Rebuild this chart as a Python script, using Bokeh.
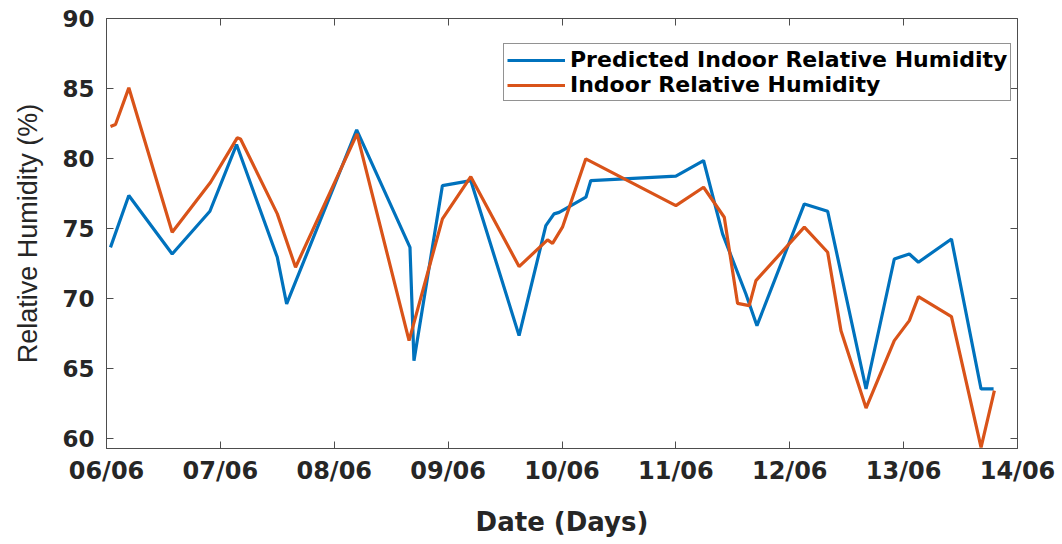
from bokeh.plotting import figure
from bokeh.models import Range1d, FixedTicker, LinearAxis
from bokeh.embed import file_html
from bokeh.resources import INLINE

# x positions are days since 06/06 00:00
tick_days = [0, 1, 2, 3, 4, 5, 6, 7, 8]
tick_labels = ["06/06", "07/06", "08/06", "09/06", "10/06", "11/06", "12/06", "13/06", "14/06"]
y_ticks = [60, 65, 70, 75, 80, 85, 90]

pred_days = [0.035, 0.196, 0.577, 0.908, 1.142, 1.50, 1.582, 2.197, 2.665, 2.70, 2.95, 3.199,
             3.623, 3.858, 3.93, 3.975, 4.21, 4.253, 5.0, 5.243, 5.41, 5.615, 5.712, 6.128,
             6.333, 6.67, 6.918, 7.05, 7.13, 7.42, 7.68, 7.79]
pred_rh = [73.66, 77.36, 73.19, 76.24, 81.0, 72.95, 69.62, 82.05, 73.66, 65.57, 78.07, 78.43,
           67.36, 75.21, 76.05, 76.16, 77.24, 78.43, 78.74, 79.86, 74.62, 70.33, 68.07, 76.76,
           76.24, 63.55, 72.83, 73.19, 72.6, 74.26, 63.55, 63.55]

obs_days = [0.035, 0.079, 0.196, 0.577, 0.914, 1.148, 1.177, 1.50, 1.66, 2.2, 2.657, 2.95,
            3.199, 3.623, 3.873, 3.917, 4.004, 4.209, 5.0, 5.243, 5.425, 5.542, 5.644, 5.703,
            6.128, 6.333, 6.45, 6.67, 6.918, 7.05, 7.13, 7.42, 7.68, 7.797]
obs_rh = [82.29, 82.43, 85.05, 74.74, 78.31, 81.48, 81.4, 76.05, 72.24, 81.76, 67.0, 75.69,
          78.71, 72.29, 74.19, 73.95, 75.1, 79.98, 76.64, 77.95, 75.81, 69.66, 69.5, 71.29,
          75.1, 73.31, 67.7, 62.19, 67.0, 68.43, 70.14, 68.71, 59.38, 63.43]

BLUE = "#0072BD"
ORANGE = "#D95319"
AX = "#4d4d4d"
TXT = "#262626"

p = figure(width=1062, height=544, output_backend="svg", toolbar_location=None,
           x_range=Range1d(0, 8), y_range=Range1d(59.3, 90),
           min_border_left=106, min_border_right=45, min_border_top=18, min_border_bottom=96)
p.grid.visible = False
p.outline_line_color = AX
p.outline_line_width = 1

p.line(pred_days, pred_rh, line_color=BLUE, line_width=3.2,
       legend_label="Predicted Indoor Relative Humidity")
p.line(obs_days, obs_rh, line_color=ORANGE, line_width=3.2,
       legend_label="Indoor Relative Humidity")

xa = p.xaxis[0]
xa.ticker = FixedTicker(ticks=tick_days)
xa.major_label_overrides = {d: l for d, l in zip(tick_days, tick_labels)}
ya = p.yaxis[0]
ya.ticker = FixedTicker(ticks=y_ticks)

for ax in (xa, ya):
    ax.axis_line_color = AX
    ax.major_tick_line_color = AX
    ax.major_tick_in = 7
    ax.major_tick_out = 0
    ax.minor_tick_line_color = None
    ax.major_label_text_font = "DejaVu Sans"
    ax.major_label_text_font_style = "bold"
    ax.major_label_text_font_size = "23px"
    ax.major_label_text_color = TXT

xa.major_label_text_font_size = "24px"
xa.major_label_standoff = 8
xa.axis_label = "Date (Days)"
xa.axis_label_text_font = "DejaVu Sans"
xa.axis_label_text_font_style = "bold"
xa.axis_label_text_font_size = "26px"
xa.axis_label_text_color = TXT
xa.axis_label_standoff = 19

ya.major_label_standoff = 12
ya.axis_label = "Relative Humidity (%)"
ya.axis_label_text_font = "Liberation Sans"
ya.axis_label_text_font_style = "normal"
ya.axis_label_text_font_size = "27px"
ya.axis_label_text_color = TXT
ya.axis_label_standoff = 16

# mirrored inward ticks on top and right (labels not drawn)
top = LinearAxis(ticker=FixedTicker(ticks=tick_days))
right = LinearAxis(ticker=FixedTicker(ticks=y_ticks))
for ax in (top, right):
    ax.axis_line_color = None
    ax.major_tick_line_color = AX
    ax.major_tick_in = 7
    ax.major_tick_out = 0
    ax.minor_tick_line_color = None
    ax.major_label_text_font_size = "2px"
    ax.major_label_text_color = None
    ax.major_label_standoff = 0
p.add_layout(top, "above")
p.add_layout(right, "right")

lg = p.legend[0]
lg.location = (397, 347)
lg.border_line_color = TXT
lg.border_line_width = 1
lg.background_fill_color = "white"
lg.background_fill_alpha = 1
lg.label_text_font = "DejaVu Sans"
lg.label_text_font_style = "bold"
lg.label_text_font_size = "22px"
lg.label_text_color = "black"
lg.glyph_width = 58
lg.glyph_height = 22
lg.label_height = 22
lg.label_standoff = 5
lg.spacing = 0
lg.padding = 3
lg.margin = 0

open("out.html", "w").write(file_html(p, INLINE))
